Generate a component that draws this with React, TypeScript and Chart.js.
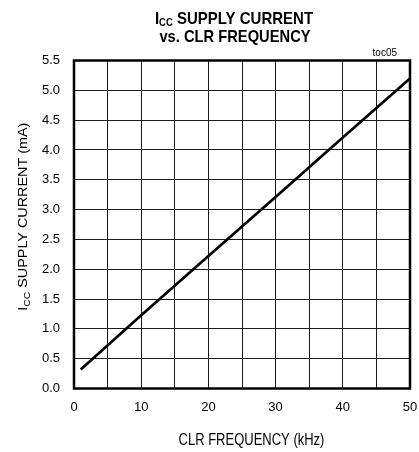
import React, { useEffect, useRef } from "react";
import { Chart, registerables } from "chart.js";

Chart.register(...registerables);

// ---- data ----
const clrFrequencyKHz = [1, 10, 20, 30, 40, 50];
const supplyCurrentMA = [0.32, 1.23, 2.22, 3.21, 4.21, 5.2];
const xLabelEvery = 10;
const titleMain = "I";
const titleSub = "CC";
const titleRest = " SUPPLY CURRENT";
const titleLine2 = "vs. CLR FREQUENCY";
const xAxisTitle = "CLR FREQUENCY (kHz)";
const yAxisTitleRest = " SUPPLY CURRENT (mA)";
const figureTag = "toc05";

const FONT = "'Liberation Sans', Arial, sans-serif";

type Piece = { text: string; font: string; dy: number };

function drawPieces(
  ctx: CanvasRenderingContext2D,
  pieces: Piece[],
  cx: number,
  baseline: number,
  sx: number,
  sy: number
) {
  let total = 0;
  for (const p of pieces) {
    ctx.font = p.font;
    total += ctx.measureText(p.text).width;
  }
  ctx.save();
  ctx.translate(cx, baseline);
  ctx.scale(sx, sy);
  let x = -total / 2;
  ctx.textAlign = "left";
  ctx.textBaseline = "alphabetic";
  for (const p of pieces) {
    ctx.font = p.font;
    ctx.fillText(p.text, x, p.dy);
    x += ctx.measureText(p.text).width;
  }
  ctx.restore();
}

const decorPlugin = {
  id: "decor",
  afterDraw(chart: any) {
    const ctx: CanvasRenderingContext2D = chart.ctx;
    const a = chart.chartArea;
    ctx.save();
    // frame
    ctx.strokeStyle = "#000";
    ctx.lineWidth = 2.5;
    ctx.strokeRect(a.left, a.top, a.right - a.left, a.bottom - a.top);
    ctx.fillStyle = "#000";

    // title
    drawPieces(
      ctx,
      [
        { text: titleMain, font: `bold 15px ${FONT}`, dy: 0 },
        { text: titleSub, font: `bold 9.5px ${FONT}`, dy: 2.5 },
        { text: titleRest, font: `bold 15px ${FONT}`, dy: 0 },
      ],
      234,
      23.5,
      1,
      1.08
    );
    drawPieces(ctx, [{ text: titleLine2, font: `bold 15px ${FONT}`, dy: 0 }], 235, 42, 0.98, 1.08);

    // tag
    ctx.save();
    ctx.translate(397, 56);
    ctx.scale(1, 1.15);
    ctx.font = `10px ${FONT}`;
    ctx.textAlign = "right";
    ctx.textBaseline = "alphabetic";
    ctx.fillText(figureTag, 0, 0);
    ctx.restore();

    // x axis title
    drawPieces(ctx, [{ text: xAxisTitle, font: `13px ${FONT}`, dy: 0 }], 251.5, 445, 1, 1.2);

    // y axis title (rotated)
    ctx.save();
    ctx.translate(26.5, 216.7);
    ctx.rotate(-Math.PI / 2);
    drawPieces(
      ctx,
      [
        { text: titleMain, font: `12.5px ${FONT}`, dy: 0 },
        { text: titleSub, font: `9px ${FONT}`, dy: 3 },
        { text: yAxisTitleRest, font: `12.5px ${FONT}`, dy: 0 },
      ],
      0,
      0,
      1.15,
      1
    );
    ctx.restore();
    ctx.restore();
  },
};

export default function App() {
  const ref = useRef<HTMLCanvasElement | null>(null);

  useEffect(() => {
    if (!ref.current) return;
    const chart = new Chart(ref.current, {
      type: "line",
      data: {
        datasets: [
          {
            data: clrFrequencyKHz.map((x, i) => ({ x, y: supplyCurrentMA[i] })),
            borderColor: "#000",
            borderWidth: 2.7,
            pointRadius: 0,
            tension: 0,
            fill: false,
          },
        ],
      },
      options: {
        animation: false,
        responsive: false,
        devicePixelRatio: 1,
        layout: { padding: { left: 0, right: 9, top: 60.5, bottom: 0 } },
        plugins: { legend: { display: false }, tooltip: { enabled: false }, title: { display: false } },
        scales: {
          x: {
            type: "linear",
            min: 0,
            max: 50,
            afterFit(scale: any) {
              scale.height = 63.5;
              scale.paddingLeft = 0;
              scale.paddingRight = 0;
            },
            border: { display: false },
            grid: { color: "#1a1a1a", lineWidth: 1, drawTicks: false },
            ticks: {
              stepSize: 5,
              padding: 11.5,
              color: "#000",
              font: { family: FONT, size: 13 },
              maxRotation: 0,
              autoSkip: false,
              callback: (v: any) => (Number(v) % xLabelEvery === 0 ? String(v) : ""),
            },
          },
          y: {
            type: "linear",
            min: 0,
            max: 5.5,
            afterFit(scale: any) {
              scale.width = 74;
              scale.paddingTop = 0;
              scale.paddingBottom = 0;
            },
            border: { display: false },
            grid: { color: "#1a1a1a", lineWidth: 1, drawTicks: false },
            ticks: {
              stepSize: 0.5,
              padding: 14,
              color: "#000",
              font: { family: FONT, size: 13 },
              autoSkip: false,
              callback: (v: any) => Number(v).toFixed(1),
            },
          },
        },
      },
      plugins: [decorPlugin],
    });
    return () => chart.destroy();
  }, []);

  return (
    <div style={{ position: "fixed", left: 0, top: 0, width: 419, height: 452, background: "#fff" }}>
      <canvas ref={ref} width={419} height={452} style={{ width: 419, height: 452, display: "block" }} />
    </div>
  );
}
